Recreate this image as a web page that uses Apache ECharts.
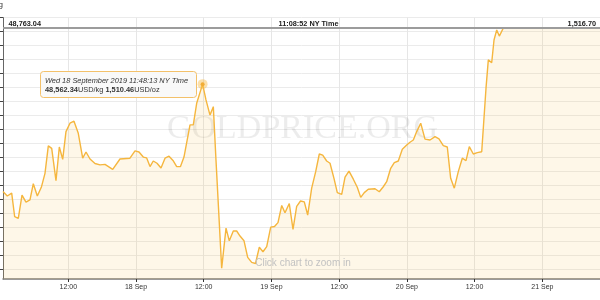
<!DOCTYPE html>
<html><head><meta charset="utf-8">
<script src="https://cdn.jsdelivr.net/npm/echarts@6/dist/echarts.min.js"></script>
<style>html,body{margin:0;padding:0;background:#fff}#c{width:600px;height:300px}</style>
</head><body><div id="c"></div>
<script>
// hours since 17 Sep 2019 00:00 NY time
const hours = [
 0.43,1.19,1.97,2.50,3.14,3.80,4.50,5.21,5.80,6.51,
 7.22,7.87,8.46,9.06,9.82,10.41,11.01,11.59,12.30,13.01,
 13.77,14.55,15.14,15.85,16.73,17.62,18.50,19.87,21.16,22.93,
 23.82,24.53,25.29,25.89,26.48,27.06,27.72,28.43,29.14,29.85,
 30.55,31.21,31.88,32.50,33.57,34.15,34.75,35.80,36.40,37.11,
 37.70,38.17,39.18,39.95,40.53,41.24,41.84,42.43,43.14,43.79,
 44.50,45.17,45.85,46.50,47.16,47.87,48.54,49.16,49.82,50.40,
 51.16,51.82,52.47,53.15,53.82,54.42,55.13,55.84,56.48,57.08,
 57.79,58.38,59.08,59.67,60.45,61.04,61.74,62.51,63.21,63.82,
 64.45,65.16,66.35,67.11,67.82,68.42,69.13,69.77,70.48,71.19,
 71.97,72.55,73.14,73.74,74.45,75.21,76.10,76.98,77.69,78.45,
 79.16,79.76,80.40,81.11,81.82,82.48,83.06,83.77,84.48,85.26,
 86.02,86.43,87.03,87.44,87.92,88.38,89.09,106.22
];
// gold price, USD per kg
const usdKg = [
 48179,48163,48173,48089,48083,48166,48141,48149,48207,48163,
 48194,48244,48342,48333,48218,48338,48294,48393,48423,48430,
 48387,48298,48320,48295,48279,48274,48276,48258,48295,48298,
 48324,48320,48302,48299,48268,48288,48280,48263,48298,48305,
 48290,48268,48268,48302,48417,48417,48494,48562.34,48506,48452,
 48482,48292,47905,48048,48003,48038,48038,48020,48003,47944,
 47926,47922,47980,47964,47982,48052,48054,48068,48129,48103,
 48136,48044,48126,48145,48142,48095,48191,48250,48313,48309,
 48288,48280,48226,48175,48169,48230,48252,48223,48194,48158,
 48175,48187,48189,48178,48196,48214,48262,48282,48288,48330,
 48345,48355,48363,48393,48423,48366,48363,48375,48367,48343,
 48338,48226,48191,48250,48298,48289,48339,48313,48318,48321,
 48548,48649,48639,48720,48756,48734,48763.04,48763.04
];
const xTickHours = [12,24,36,48,60,72,84,96];
const xTickLabels = ['12:00','18 Sep','12:00','19 Sep','12:00','20 Sep','12:00','21 Sep'];
const yTickValues = [47900,47950,48000,48050,48100,48150,48200,48250,48300,48350,48400,48450,48500,48550,48600,48650,48700,48750,48800];
const xMin = 0.43, xMax = 106.22, yMin = 47866.6, yMax = 48800;
const OZ_PER_KG = 32.1507466;
const peakValue = 48562.34;
const peakTimeText = 'Wed 18 September 2019 11:48:13 NY Time';
const nowTimeText = '11:08:52 NY Time';
const axisUnitText = 'USD/kg';
const watermarkText = 'GOLDPRICE.ORG';
const hintText = 'Click chart to zoom in';

function fmt(v){
  const s = v.toFixed(2); const p = s.split('.');
  return p[0].replace(/\B(?=(\d{3})+(?!\d))/g, ',') + '.' + p[1];
}
const lastKg = usdKg[usdKg.length-1];
const peakIdx = usdKg.indexOf(peakValue);
const FONT = '"Liberation Sans", Arial, sans-serif';

const chart = echarts.init(document.getElementById('c'), null, {renderer:'canvas'});
chart.setOption({
  animation:false,
  backgroundColor:'#fff',
  grid:{left:3, right:0, top:17.6, bottom:21, outerBoundsMode:'none'},
  xAxis:{
    type:'value', min:xMin, max:xMax,
    axisLine:{show:true, onZero:false, lineStyle:{color:'#7a7a7a', width:1.5}},
    axisTick:{show:true, customValues:xTickHours, length:3, lineStyle:{color:'#333', width:1}},
    axisLabel:{customValues:xTickHours, formatter:function(v){const i=xTickHours.indexOf(v);return i>=0?xTickLabels[i]:'';},
      fontSize:7, color:'#333', margin:5, fontFamily:FONT},
    splitLine:{show:true, lineStyle:{color:'#e6e6e6', width:1}}
  },
  yAxis:{
    type:'value', min:yMin, max:yMax,
    axisLine:{show:true, onZero:false, lineStyle:{color:'#666', width:1}},
    axisTick:{show:true, customValues:yTickValues, length:3, lineStyle:{color:'#444'}},
    axisLabel:{show:false, customValues:yTickValues},
    splitLine:{show:true, lineStyle:{color:'#ebebeb', width:1}}
  },
  series:[{
    type:'line', symbol:'none', clip:true,
    data:hours.map((h,i)=>[h, usdKg[i]]),
    lineStyle:{color:'#f5b63e', width:1.4},
    areaStyle:{color:'rgba(247,190,70,0.18)', origin:'start'},
    markLine:{silent:true, symbol:'none', label:{show:false},
      lineStyle:{color:'#9c9c9c', width:2, type:'solid'},
      data:[{yAxis:lastKg}]},
    markPoint:{silent:true, symbol:'circle', label:{show:false},
      data:[
        {coord:[hours[peakIdx], usdKg[peakIdx]], symbolSize:10, itemStyle:{color:'rgba(246,186,70,0.45)'}},
        {coord:[hours[peakIdx], usdKg[peakIdx]], symbolSize:4, itemStyle:{color:'#f2ad35'}}
      ]}
  }],
  graphic:[
    {type:'text', z:1, x:302.5, y:129, style:{text:watermarkText, font:'34px "Liberation Serif", serif', fill:'rgba(0,0,0,0.075)', textAlign:'center', textVerticalAlign:'middle'}},
    {type:'text', z:10, x:303, y:263, style:{text:hintText, font:'10px '+FONT, fill:'#c2c2c2', textAlign:'center', textVerticalAlign:'middle'}},
    {type:'text', z:10, x:8.5, y:24, style:{text:fmt(lastKg), font:'bold 7.3px '+FONT, fill:'#222', textAlign:'left', textVerticalAlign:'middle'}},
    {type:'text', z:10, x:308.5, y:24, style:{text:nowTimeText, font:'bold 7.3px '+FONT, fill:'#222', textAlign:'center', textVerticalAlign:'middle'}},
    {type:'text', z:10, x:596, y:24, style:{text:fmt(lastKg/OZ_PER_KG), font:'bold 7.3px '+FONT, fill:'#222', textAlign:'right', textVerticalAlign:'middle'}},
    {type:'text', z:10, x:3, y:5, style:{text:axisUnitText, font:'8px '+FONT, fill:'#333', textAlign:'right', textVerticalAlign:'middle'}},
    {type:'rect', z:20, shape:{x:40.5, y:71.5, width:156, height:26, r:3}, style:{fill:'rgba(249,249,249,0.95)', stroke:'#f3c16a', lineWidth:1}},
    {type:'text', z:21, x:45, y:80.7, style:{text:peakTimeText, font:'italic 7.4px '+FONT, fill:'#333', textAlign:'left', textVerticalAlign:'middle'}},
    {type:'text', z:21, x:45, y:89.5, style:{
      text:'{b|'+fmt(peakValue)+'}USD/kg {b|'+fmt(peakValue/OZ_PER_KG)+'}USD/oz',
      font:'7.4px '+FONT, fill:'#333', textAlign:'left', textVerticalAlign:'middle',
      rich:{b:{fontWeight:'bold', fontSize:7.4, fontFamily:FONT, fill:'#333'}}}}
  ]
});
</script></body></html>
